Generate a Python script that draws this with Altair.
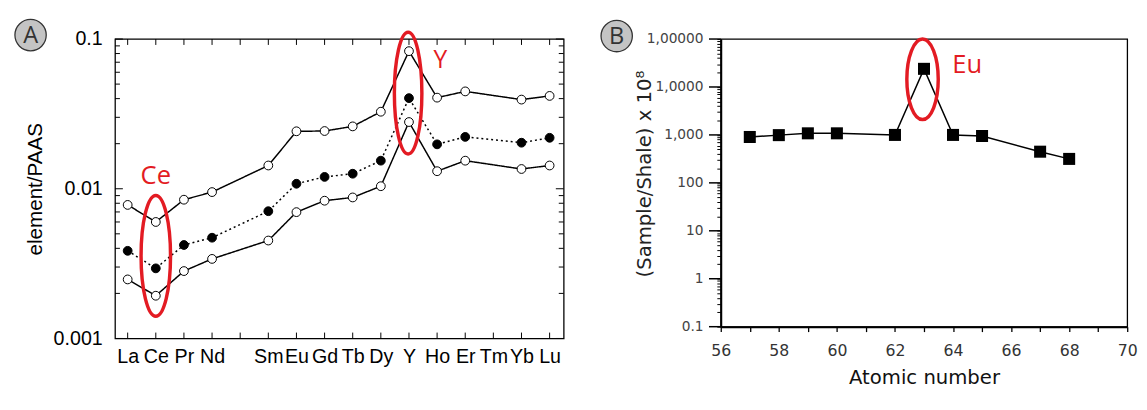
import altair as alt
import pandas as pd

# ---------------- Panel A data ----------------
tick_labels_a = ["La", "Ce", "Pr", "Nd", "", "Sm", "Eu", "Gd", "Tb", "Dy", "Y", "Ho", "Er", "Tm", "Yb", "Lu"]
elements = ["La", "Ce", "Pr", "Nd", "Sm", "Eu", "Gd", "Tb", "Dy", "Y", "Ho", "Er", "Yb", "Lu"]
positions = [0, 1, 2, 3, 5, 6, 7, 8, 9, 10, 11, 12, 14, 15]
upper = [0.0078, 0.0060, 0.00845, 0.0095, 0.0143, 0.0242, 0.0243, 0.0261, 0.0327, 0.083, 0.0406, 0.0447, 0.0394, 0.0417]
middle = [0.00385, 0.00294, 0.00421, 0.00471, 0.00708, 0.0108, 0.0120, 0.0126, 0.0154, 0.0403, 0.0198, 0.0222, 0.0203, 0.0219]
lower = [0.00248, 0.00193, 0.00282, 0.0034, 0.00451, 0.00698, 0.00832, 0.00875, 0.0104, 0.0279, 0.0131, 0.0154, 0.01355, 0.0143]
a_decades = [0.001, 0.01, 0.1]
a_minor = [k * 10.0 ** e for e in (-3, -2) for k in range(2, 10)]

# ---------------- Panel B data ----------------
atomic = [57, 58, 59, 60, 62, 63, 64, 65, 67, 68]
ratio = [906, 990, 1080, 1080, 1000, 23900, 1000, 950, 447, 316]
b_decades = [0.1, 1, 10, 100, 1000, 10000, 100000]
b_decade_labels = ["0.1", "1", "10", "100", "1,000", "1,0000", "1,00000"]
b_minor = [k * 10.0 ** e for e in range(-1, 5) for k in range(2, 10)]
b_xticks = list(range(56, 71))

RED = "#e31b23"
WA, HA = 457, 305
WB, HB = 414, 293

# ---------------- Panel A ----------------
rows = []
for name, vals in (("upper", upper), ("middle", middle), ("lower", lower)):
    for el, p, v in zip(elements, positions, vals):
        rows.append({"series": name, "element": el, "pos": p, "value": v})
dfA = pd.DataFrame(rows)

xsA = alt.Scale(domain=[-0.45, 15.5], nice=False, zero=False)
ysA = alt.Scale(type="log", domain=[0.001, 0.1], nice=False)
series_dom = ["upper", "middle", "lower"]

labels_js = "[" + ",".join("'" + s + "'" for s in tick_labels_a) + "]"
axAx = alt.Axis(values=list(range(16)), labelExpr=labels_js + "[datum.value]",
                ticks=False, domain=False, grid=False, labelFontSize=20,
                labelFont="Liberation Sans", labelColor="black", labelPadding=8,
                labelOverlap=False, labelFlush=False, labelBound=False, title=None)
axAy = alt.Axis(values=a_decades, format="~g", ticks=False, domain=False, grid=False,
                labelFontSize=20, labelFont="Liberation Sans", labelColor="black",
                labelPadding=13, labelOverlap=False,
                title="element/PAAS", titleFont="Liberation Sans", titleFontSize=21,
                titleFontWeight="normal", titleColor="black", titlePadding=8)

def XA(field="pos:Q"):
    return alt.X(field, scale=xsA, axis=axAx)

def YA(field):
    return alt.Y(field, scale=ysA, axis=axAy)

baseA = alt.Chart(dfA)
linesA = baseA.mark_line(color="black", strokeWidth=1.5).encode(
    x=XA(), y=YA("value:Q"),
    detail="series:N",
    strokeDash=alt.StrokeDash("series:N", scale=alt.Scale(domain=series_dom, range=[[1, 0], [2, 3], [1, 0]]), legend=None),
)
pointsA = baseA.mark_point(filled=True, size=80, stroke="black", strokeWidth=1, opacity=1).encode(
    x=XA(), y=YA("value:Q"),
    fill=alt.Fill("series:N", scale=alt.Scale(domain=series_dom, range=["white", "black", "white"]), legend=None),
)

dfXt = pd.DataFrame({"pos": list(range(16))})
tickBottom = alt.Chart(dfXt).mark_rule(color="black", strokeWidth=1).encode(
    x=XA(), y=alt.value(HA), y2=alt.value(HA - 6))
tickTop = alt.Chart(dfXt).mark_rule(color="black", strokeWidth=1).encode(
    x=XA(), y=alt.value(0), y2=alt.value(6))
dfYmA = pd.DataFrame({"value": a_decades})
dfYnA = pd.DataFrame({"value": a_minor})
tickL1 = alt.Chart(dfYmA).mark_rule(color="black", strokeWidth=1).encode(
    y=YA("value:Q"), x=alt.value(0), x2=alt.value(8))
tickL2 = alt.Chart(dfYnA).mark_rule(color="black", strokeWidth=1).encode(
    y=YA("value:Q"), x=alt.value(0), x2=alt.value(5))
tickR1 = alt.Chart(dfYmA).mark_rule(color="black", strokeWidth=1).encode(
    y=YA("value:Q"), x=alt.value(WA), x2=alt.value(WA - 8))
tickR2 = alt.Chart(dfYnA).mark_rule(color="black", strokeWidth=1).encode(
    y=YA("value:Q"), x=alt.value(WA), x2=alt.value(WA - 5))

def ellipse_path(rx):
    return f"M0,-1 A{rx},1 0 1,1 0,1 A{rx},1 0 1,1 0,-1 Z"

ellCe = alt.Chart(pd.DataFrame({"pos": [1], "value": [0.00356]})).mark_point(
    shape=ellipse_path(0.244), size=123 * 123, filled=False, stroke=RED, strokeWidth=3.5, opacity=1).encode(
    x=XA(), y=YA("value:Q"))
ellY = alt.Chart(pd.DataFrame({"pos": [9.97], "value": [0.0435]})).mark_point(
    shape=ellipse_path(0.226), size=124 * 124, filled=False, stroke=RED, strokeWidth=3.5, opacity=1).encode(
    x=XA(), y=YA("value:Q"))
txtA = alt.Chart(pd.DataFrame({"pos": [1.0, 11.12], "value": [0.0121, 0.0718], "t": ["Ce", "Y"], "s": [26, 25]})).mark_text(
    color=RED, font="Open Sans", align="center", baseline="middle").encode(
    x=XA(), y=YA("value:Q"), text="t:N",
    size=alt.Size("s:Q", scale=None, legend=None))

circA = alt.Chart(pd.DataFrame({"t": ["A"]})).mark_point(
    shape="circle", size=1018, filled=True, fill="#c4c4c4", stroke="#333333", strokeWidth=1.3, opacity=1).encode(
    x=alt.value(-86), y=alt.value(-4))
letA = alt.Chart(pd.DataFrame({"t": ["A"]})).mark_text(
    font="Open Sans", fontSize=24, color="#333333", align="center", baseline="middle").encode(
    x=alt.value(-86), y=alt.value(-3), text="t:N")

panelA = alt.layer(linesA, pointsA, tickBottom, tickTop, tickL1, tickL2, tickR1, tickR2,
                   ellCe, ellY, txtA, circA, letA).properties(width=WA, height=HA)

# ---------------- Panel B ----------------
dfB = pd.DataFrame({"z": atomic, "r": ratio})
xsB = alt.Scale(domain=[56, 70], nice=False, zero=False)
ysB = alt.Scale(type="log", domain=[0.1, 100000], nice=False)

dec_js = "[" + ",".join(str(v) for v in b_decades) + "]"
declab_js = "[" + ",".join("'" + s + "'" for s in b_decade_labels) + "]"
ylabB = f"indexof({dec_js}, datum.value) >= 0 ? {declab_js}[indexof({dec_js}, datum.value)] : ''"

axBx = alt.Axis(values=b_xticks, labelExpr="datum.value % 2 == 0 ? '' + datum.value : ''",
                tickSize=5, tickColor="black", tickWidth=1.3, domain=True, domainColor="black",
                domainWidth=2, grid=False, labelFont="DejaVu Sans", labelFontSize=16,
                labelColor="#333333", labelPadding=11, labelOverlap=False, labelFlush=False,
                title="Atomic number", titleFont="DejaVu Sans", titleFontSize=20,
                titleFontWeight="normal", titleColor="#111111", titlePadding=10)
axBy = alt.Axis(values=b_decades + b_minor, labelExpr=ylabB, tickSize=4, tickColor="black",
                tickWidth=1, domain=True, domainColor="black", domainWidth=2, grid=False,
                labelFont="DejaVu Sans", labelFontSize=14, labelColor="#444444",
                labelPadding=14, labelOverlap=False, labelFlush=False,
                title="(Sample/Shale) x 10⁸", titleFont="DejaVu Sans", titleFontSize=20,
                titleFontWeight="normal", titleColor="#222222", titlePadding=-8, titleY=137)

def XB():
    return alt.X("z:Q", scale=xsB, axis=axBx)

def YB():
    return alt.Y("r:Q", scale=ysB, axis=axBy)

lineB = alt.Chart(dfB).mark_line(color="black", strokeWidth=1.5).encode(x=XB(), y=YB())
ptsB = alt.Chart(dfB).mark_point(shape="square", filled=True, size=150, color="black", opacity=1).encode(
    x=XB(), y=YB())
tickBm = alt.Chart(pd.DataFrame({"r": b_decades})).mark_rule(color="black", strokeWidth=1.5).encode(
    y=YB(), x=alt.value(0), x2=alt.value(-12))
ellEu = alt.Chart(pd.DataFrame({"z": [62.95], "r": [14450]})).mark_point(
    shape=ellipse_path(0.39), size=82 * 82, filled=False, stroke=RED, strokeWidth=3.5, opacity=1).encode(
    x=XB(), y=YB())
txtB = alt.Chart(pd.DataFrame({"z": [64.49], "r": [28000], "t": ["Eu"]})).mark_text(
    color=RED, font="Open Sans", fontSize=26, align="center", baseline="middle").encode(
    x=XB(), y=YB(), text="t:N")
circB = alt.Chart(pd.DataFrame({"t": ["B"]})).mark_point(
    shape="circle", size=1018, filled=True, fill="#c4c4c4", stroke="#333333", strokeWidth=1.3, opacity=1).encode(
    x=alt.value(-106), y=alt.value(-3))
letB = alt.Chart(pd.DataFrame({"t": ["B"]})).mark_text(
    font="Open Sans", fontSize=24, color="#333333", align="center", baseline="middle").encode(
    x=alt.value(-106), y=alt.value(-2), text="t:N")

panelB = alt.layer(lineB, ptsB, tickBm, ellEu, txtB, circB, letB).properties(width=WB, height=HB)

chart = alt.hconcat(panelA, panelB, spacing=32).properties(
    padding={"left": 3, "top": 4, "right": 1, "bottom": 5},
    background="white",
).configure_view(stroke="black", strokeWidth=1.3)

chart.save("out.html", embed_options={"renderer": "svg", "actions": False})
